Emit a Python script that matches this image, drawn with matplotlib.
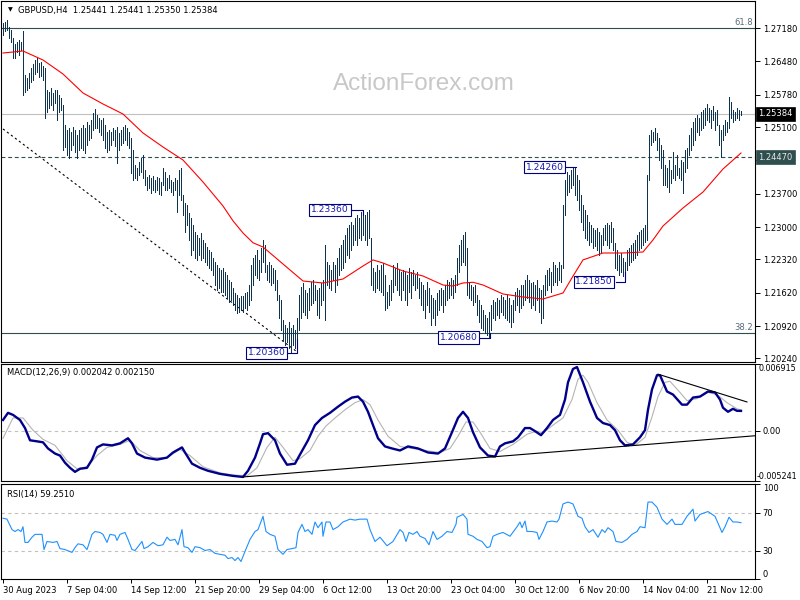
import matplotlib
matplotlib.use("Agg")
import matplotlib.pyplot as plt
import numpy as np
from matplotlib.transforms import blended_transform_factory as btf

# ---------------- data ----------------
high = [
 1.2729, 1.2731, 1.2735, 1.2720, 1.2714, 1.2697, 1.2684, 1.2689, 1.2693, 1.2689,
 1.2712, 1.2619, 1.2613, 1.2624, 1.2634, 1.2643, 1.2651, 1.2655, 1.2645, 1.2647,
 1.2638, 1.2634, 1.2588, 1.2584, 1.2592, 1.2582, 1.2588, 1.2588, 1.2577, 1.2571,
 1.2556, 1.2514, 1.2504, 1.2508, 1.2500, 1.2510, 1.2504, 1.2493, 1.2504, 1.2508,
 1.2514, 1.2508, 1.2521, 1.2514, 1.2525, 1.2540, 1.2548, 1.2535, 1.2529, 1.2525,
 1.2529, 1.2514, 1.2500, 1.2504, 1.2500, 1.2508, 1.2504, 1.2510, 1.2498, 1.2504,
 1.2510, 1.2514, 1.2508, 1.2500, 1.2487, 1.2462, 1.2430, 1.2424, 1.2437, 1.2445,
 1.2451, 1.2420, 1.2405, 1.2409, 1.2403, 1.2407, 1.2399, 1.2405, 1.2403, 1.2395,
 1.2424, 1.2416, 1.2403, 1.2409, 1.2399, 1.2395, 1.2403, 1.2399, 1.2420, 1.2424,
 1.2367, 1.2351, 1.2346, 1.2330, 1.2319, 1.2304, 1.2290, 1.2283, 1.2277, 1.2288,
 1.2273, 1.2267, 1.2258, 1.2252, 1.2248, 1.2235, 1.2227, 1.2220, 1.2214, 1.2210,
 1.2214, 1.2206, 1.2199, 1.2189, 1.2185, 1.2172, 1.2162, 1.2157, 1.2151, 1.2155,
 1.2155, 1.2162, 1.2164, 1.2178, 1.2220, 1.2235, 1.2241, 1.2252, 1.2231, 1.2256,
 1.2273, 1.2262, 1.2220, 1.2227, 1.2220, 1.2214, 1.2210, 1.2189, 1.2157, 1.2147,
 1.2105, 1.2094, 1.2088, 1.2101, 1.2088, 1.2094, 1.2084, 1.2109, 1.2157, 1.2174,
 1.2183, 1.2168, 1.2162, 1.2172, 1.2185, 1.2189, 1.2178, 1.2168, 1.2172, 1.2183,
 1.2189, 1.2262, 1.2227, 1.2220, 1.2210, 1.2227, 1.2220, 1.2235, 1.2256, 1.2262,
 1.2273, 1.2283, 1.2298, 1.2304, 1.2311, 1.2304, 1.2319, 1.2325, 1.2319, 1.2332,
 1.2336, 1.2325, 1.2332, 1.2336, 1.2277, 1.2214, 1.2206, 1.2220, 1.2210, 1.2220,
 1.2225, 1.2199, 1.2164, 1.2178, 1.2189, 1.2220, 1.2214, 1.2225, 1.2210, 1.2206,
 1.2210, 1.2206, 1.2199, 1.2214, 1.2206, 1.2210, 1.2199, 1.2206, 1.2193, 1.2185,
 1.2178, 1.2168, 1.2185, 1.2172, 1.2157, 1.2151, 1.2147, 1.2162, 1.2168, 1.2172,
 1.2168, 1.2178, 1.2189, 1.2185, 1.2193, 1.2189, 1.2199, 1.2235, 1.2262, 1.2273,
 1.2283, 1.2290, 1.2256, 1.2185, 1.2178, 1.2174, 1.2178, 1.2157, 1.2147, 1.2136,
 1.2126, 1.2115, 1.2109, 1.2122, 1.2136, 1.2147, 1.2143, 1.2151, 1.2147, 1.2157,
 1.2153, 1.2147, 1.2157, 1.2151, 1.2136, 1.2147, 1.2164, 1.2172, 1.2168, 1.2178,
 1.2178, 1.2189, 1.2199, 1.2189, 1.2183, 1.2185, 1.2178, 1.2189, 1.2172, 1.2168,
 1.2178, 1.2199, 1.2210, 1.2214, 1.2206, 1.2227, 1.2220, 1.2214, 1.2227, 1.2220,
 1.2346, 1.2399, 1.2416, 1.2409, 1.2420, 1.2424, 1.2426, 1.2409, 1.2399, 1.2367,
 1.2346, 1.2336, 1.2325, 1.2311, 1.2304, 1.2298, 1.2294, 1.2298, 1.2290, 1.2283,
 1.2298, 1.2304, 1.2309, 1.2304, 1.2311, 1.2298, 1.2267, 1.2252, 1.2241, 1.2246,
 1.2235, 1.2227, 1.2252, 1.2256, 1.2262, 1.2267, 1.2273, 1.2283, 1.2290, 1.2294,
 1.2298, 1.2304, 1.2409, 1.2493, 1.2504, 1.2500, 1.2508, 1.2498, 1.2487, 1.2472,
 1.2462, 1.2430, 1.2424, 1.2441, 1.2420, 1.2458, 1.2430, 1.2451, 1.2424, 1.2441,
 1.2437, 1.2462, 1.2466, 1.2493, 1.2508, 1.2521, 1.2529, 1.2535, 1.2529, 1.2542,
 1.2546, 1.2550, 1.2559, 1.2550, 1.2546, 1.2554, 1.2542, 1.2546, 1.2514, 1.2504,
 1.2514, 1.2525, 1.2521, 1.2573, 1.2563, 1.2546, 1.2542, 1.2550, 1.2546, 1.25441,
]
low = [
 1.2703, 1.2712, 1.2714, 1.2697, 1.2689, 1.2655, 1.2655, 1.2668, 1.2661, 1.2672,
 1.2577, 1.2584, 1.2588, 1.2592, 1.2605, 1.2609, 1.2621, 1.2626, 1.2615, 1.2617,
 1.2609, 1.2529, 1.2542, 1.2550, 1.2556, 1.2546, 1.2561, 1.2525, 1.2542, 1.2546,
 1.2462, 1.2468, 1.2451, 1.2445, 1.2462, 1.2472, 1.2458, 1.2445, 1.2462, 1.2466,
 1.2462, 1.2456, 1.2472, 1.2483, 1.2487, 1.2504, 1.2508, 1.2508, 1.2500, 1.2493,
 1.2483, 1.2466, 1.2458, 1.2462, 1.2472, 1.2483, 1.2470, 1.2435, 1.2462, 1.2472,
 1.2477, 1.2483, 1.2472, 1.2466, 1.2414, 1.2399, 1.2403, 1.2399, 1.2409, 1.2416,
 1.2403, 1.2388, 1.2378, 1.2382, 1.2372, 1.2378, 1.2374, 1.2378, 1.2369, 1.2367,
 1.2388, 1.2378, 1.2378, 1.2382, 1.2374, 1.2367, 1.2378, 1.2332, 1.2367, 1.2357,
 1.2325, 1.2290, 1.2304, 1.2273, 1.2241, 1.2252, 1.2235, 1.2231, 1.2241, 1.2231,
 1.2235, 1.2227, 1.2220, 1.2214, 1.2210, 1.2199, 1.2178, 1.2168, 1.2172, 1.2164,
 1.2164, 1.2157, 1.2151, 1.2143, 1.2147, 1.2136, 1.2126, 1.2120, 1.2122, 1.2126,
 1.2122, 1.2130, 1.2126, 1.2136, 1.2147, 1.2178, 1.2199, 1.2193, 1.2189, 1.2206,
 1.2227, 1.2206, 1.2189, 1.2185, 1.2178, 1.2183, 1.2168, 1.2147, 1.2109, 1.2084,
 1.2063, 1.2052, 1.2059, 1.2046, 1.2036, 1.2052, 1.2046, 1.2063, 1.2084, 1.2109,
 1.2122, 1.2115, 1.2109, 1.2126, 1.2136, 1.2141, 1.2147, 1.2115, 1.2109, 1.2136,
 1.2147, 1.2105, 1.2178, 1.2172, 1.2168, 1.2189, 1.2164, 1.2178, 1.2199, 1.2210,
 1.2214, 1.2227, 1.2241, 1.2235, 1.2252, 1.2262, 1.2273, 1.2262, 1.2277, 1.2273,
 1.2283, 1.2273, 1.2262, 1.2277, 1.2178, 1.2168, 1.2164, 1.2172, 1.2168, 1.2164,
 1.2157, 1.2126, 1.2130, 1.2136, 1.2147, 1.2164, 1.2178, 1.2168, 1.2157, 1.2147,
 1.2168, 1.2147, 1.2136, 1.2164, 1.2151, 1.2178, 1.2168, 1.2172, 1.2151, 1.2136,
 1.2126, 1.2109, 1.2136, 1.2122, 1.2094, 1.2109, 1.2094, 1.2115, 1.2126, 1.2136,
 1.2122, 1.2136, 1.2147, 1.2151, 1.2157, 1.2151, 1.2164, 1.2178, 1.2206, 1.2220,
 1.2227, 1.2220, 1.2157, 1.2151, 1.2147, 1.2136, 1.2143, 1.2115, 1.2101, 1.2088,
 1.2084, 1.2077, 1.2073, 1.2068, 1.2084, 1.2109, 1.2105, 1.2115, 1.2109, 1.2122,
 1.2115, 1.2109, 1.2105, 1.2101, 1.2090, 1.2101, 1.2126, 1.2136, 1.2122, 1.2130,
 1.2136, 1.2147, 1.2151, 1.2143, 1.2130, 1.2136, 1.2126, 1.2147, 1.2122, 1.2099,
 1.2109, 1.2157, 1.2168, 1.2178, 1.2164, 1.2178, 1.2185, 1.2178, 1.2189, 1.2185,
 1.2214, 1.2325, 1.2367, 1.2374, 1.2382, 1.2388, 1.2367, 1.2357, 1.2336, 1.2311,
 1.2294, 1.2277, 1.2273, 1.2262, 1.2269, 1.2256, 1.2260, 1.2252, 1.2241, 1.2248,
 1.2262, 1.2273, 1.2262, 1.2256, 1.2269, 1.2252, 1.2214, 1.2210, 1.2199, 1.2206,
 1.2197, 1.2185, 1.2210, 1.2220, 1.2227, 1.2231, 1.2235, 1.2241, 1.2252, 1.2256,
 1.2262, 1.2269, 1.2273, 1.2399, 1.2472, 1.2479, 1.2483, 1.2462, 1.2441, 1.2424,
 1.2388, 1.2388, 1.2384, 1.2374, 1.2392, 1.2403, 1.2399, 1.2409, 1.2403, 1.2399,
 1.2372, 1.2416, 1.2424, 1.2451, 1.2462, 1.2472, 1.2483, 1.2500, 1.2493, 1.2504,
 1.2508, 1.2514, 1.2525, 1.2521, 1.2508, 1.2525, 1.2504, 1.2514, 1.2472, 1.2447,
 1.2483, 1.2493, 1.2500, 1.2508, 1.2529, 1.2521, 1.2525, 1.2529, 1.2525, 1.25350,
]

ma_idx = [0, 10, 20, 30, 40, 50, 60, 70, 80, 90, 100, 110, 115, 120, 125, 130, 140,
          150, 160, 170, 180, 185, 190, 200, 210, 220, 225, 230, 235, 240, 250, 260,
          270, 280, 285, 290, 300, 310, 320, 325, 330, 340, 350, 360, 369]
ma_val = [1.26655, 1.26697, 1.26508, 1.26214, 1.25815, 1.25584, 1.25374, 1.24975,
          1.24681, 1.24408, 1.23946, 1.23442, 1.23130, 1.22875, 1.22670, 1.22581,
          1.22224, 1.21867, 1.21825, 1.21909, 1.22182, 1.22310, 1.22245, 1.22077,
          1.21972, 1.21783, 1.21762, 1.21825, 1.21840, 1.21783, 1.21594, 1.21531,
          1.21489, 1.21615, 1.21970, 1.22310, 1.22455, 1.22455, 1.22476, 1.22730,
          1.23022, 1.23400, 1.23736, 1.24219, 1.24555]

macd_idx = [0, 2.5, 5, 8.5, 11, 13.5, 17, 20, 22.5, 26, 28.5, 31, 33.5, 36, 38.5, 42,
            44.5, 47, 50, 54.5, 58.5, 62.5, 64.5, 67, 71, 77, 82, 85, 89.5, 91, 94.5,
            98.5, 102.5, 108.5, 115, 120, 122.5, 126, 128.5, 130, 132.5, 136, 138.5,
            142, 146, 148.5, 152.5, 156, 159.5, 163.5, 167.5, 171, 174.5, 177.5, 180,
            182.5, 185, 187.5, 191, 194.5, 198.5, 202.5, 207.5, 212.5, 217.5, 221,
            224.5, 227.5, 230, 232.5, 235, 238.5, 242.5, 246, 248.5, 251, 255, 257.5,
            261, 263.5, 266, 269, 272, 275, 278.5, 281, 282.5, 285, 287, 290, 293.5,
            297, 300, 303.5, 306, 308.5, 311, 315, 318.5, 321, 322.5, 324.5, 327,
            328.5, 332, 335, 339.5, 342, 345, 348.5, 352.5, 356, 358.5, 360, 362.5,
            365, 367, 369]
macd_val = [0.00110, 0.00184, 0.00163, 0.00110, 0.00026, -0.00101, -0.00112, -0.00122,
            -0.00186, -0.00239, -0.00260, -0.00334, -0.00387, -0.00429, -0.00397,
            -0.00387, -0.00302, -0.00175, -0.00144, -0.00154, -0.00133, -0.00080,
            -0.00133, -0.00239, -0.00281, -0.00302, -0.00281, -0.00228, -0.00175,
            -0.00228, -0.00344, -0.00387, -0.00418, -0.00450, -0.00471, -0.00482,
            -0.00418, -0.00281, -0.00133, -0.00038, -0.00027, -0.00101, -0.00239,
            -0.00355, -0.00344, -0.00249, -0.00101, 0.00057, 0.00131, 0.00184,
            0.00248, 0.00300, 0.00343, 0.00353, 0.00300, 0.00195, 0.00057, -0.00080,
            -0.00165, -0.00186, -0.00207, -0.00165, -0.00186, -0.00228, -0.00239,
            -0.00186, -0.00017, 0.00131, 0.00195, 0.00131, -0.00017, -0.00175,
            -0.00260, -0.00270, -0.00165, -0.00133, -0.00112, -0.00070, 0.00026,
            0.00026, -0.00006, -0.00048, 0.00026, 0.00110, 0.00163, 0.00322, 0.00501,
            0.00640, 0.00660, 0.00501, 0.00300, 0.00131, 0.00078, 0.00057, 0.00004,
            -0.00101, -0.00154, -0.00144, -0.00070, 0.00004, 0.00216, 0.00427,
            0.00575, 0.00575, 0.00406, 0.00374, 0.00269, 0.00269, 0.00343, 0.00353,
            0.00406, 0.00396, 0.00322, 0.00237, 0.00195, 0.00226, 0.00205, 0.002042]

sig_idx = [0, 5, 10, 15, 20, 26, 32, 37, 42, 47, 52, 58.5, 63.5, 68.5, 75, 82, 88.5,
           93.5, 100, 108.5, 115, 122, 127, 132, 136, 140, 145, 148.5, 153.5, 157.5,
           161.5, 166, 171, 176, 180, 183.5, 187.5, 192.5, 198.5, 204.5, 211, 218.5,
           223.5, 227.5, 231.5, 235, 238.5, 243.5, 248.5, 255, 262, 267, 270, 275, 280,
           284.5, 287.5, 290, 292.5, 297, 302, 307.5, 312, 316, 321, 324.5, 327.5, 331,
           333.5, 338.5, 342, 347, 352.5, 357, 362, 367, 369]
sig_val = [-0.00080, 0.00131, 0.00131, 0.00004, -0.00091, -0.00154, -0.00313, -0.00397,
           -0.00376, -0.00260, -0.00175, -0.00144, -0.00101, -0.00207, -0.00281,
           -0.00281, -0.00196, -0.00260, -0.00376, -0.00440, -0.00461, -0.00471,
           -0.00387, -0.00175, -0.00070, -0.00175, -0.00313, -0.00292, -0.00207,
           -0.00059, 0.00047, 0.00131, 0.00216, 0.00290, 0.00322, 0.00269, 0.00110,
           -0.00059, -0.00165, -0.00186, -0.00207, -0.00228, -0.00186, -0.00059,
           0.00089, 0.00089, -0.00017, -0.00186, -0.00217, -0.00144, -0.00038,
           -0.00006, -0.00027, 0.00057, 0.00131, 0.00322, 0.00533, 0.00575, 0.00501,
           0.00290, 0.00110, 0.00004, -0.00122, -0.00154, -0.00070, 0.00142, 0.00353,
           0.00501, 0.00512, 0.00396, 0.00311, 0.00332, 0.00396, 0.00374, 0.00290,
           0.00226, 0.002150]

rsi_idx = [0, 2, 4.5, 6, 7.5, 9, 10, 11, 12.5, 14.5, 16, 19.5, 20.5, 22, 25, 27, 28.5,
           31, 34.5, 36, 37.5, 40, 42, 44.5, 46, 48.5, 50, 52, 53.5, 56, 57, 58.5, 61,
           62.5, 64.5, 66, 67.5, 69.5, 70.5, 72.5, 75, 77.5, 80, 82, 83.5, 86, 87.5,
           89.5, 90.5, 92.5, 94.5, 96, 98.5, 101, 103.5, 106, 108.5, 111, 112.5, 114.5,
           116, 117.5, 119, 121, 123.5, 126, 127.5, 129.5, 130, 131.5, 133.5, 136,
           137.5, 140, 142, 144.5, 146.5, 147.5, 149.5, 151, 152.5, 154.5, 156, 157.5,
           159.5, 160, 161.5, 163.5, 165, 167.5, 170, 173.5, 176, 178.5, 182, 183.5,
           186, 188.5, 192, 195, 198.5, 200, 201.5, 203, 205, 207, 208.5, 211, 213,
           215, 217, 219.5, 222, 224.5, 226.5, 227, 230, 232, 232.5, 235, 237, 239.5,
           242, 243.5, 245, 247, 250, 253.5, 257, 258.5, 259.5, 261, 262, 264.5, 267,
           268, 270, 272, 274.5, 277, 278, 280, 282.5, 285, 287.5, 289.5, 291, 293,
           295, 297.5, 299.5, 301, 302.5, 305, 306.5, 309.5, 312, 314.5, 317, 318.5,
           321, 322.5, 324.5, 327, 329.5, 332, 334.5, 336, 339.5, 342, 345, 346,
           348.5, 352.5, 356, 359.5, 361, 363, 365, 367, 369]
rsi_val = [64, 63, 52, 50, 52, 50, 55, 38.5, 38.5, 44, 47, 47, 31, 39.5, 38.5, 39.5, 32,
           31, 28, 33, 37, 36, 31, 47, 50, 49, 47, 38.5, 47, 46, 40.6, 47, 49, 41.7, 31,
           30, 34, 39.5, 32, 34, 38.5, 35, 36, 44, 40.6, 41.7, 36, 52, 34, 33, 28, 34,
           33, 30, 31, 27, 26, 25, 21.5, 22.6, 19.4, 22.6, 18.4, 29, 41.7, 50, 52, 63,
           66, 50, 47, 45, 31, 26, 31, 32, 33, 49, 57.5, 50, 52, 47, 60, 54, 60, 45, 60,
           60, 52, 55, 60, 63, 62, 63, 63, 52, 39.5, 44, 35, 39.5, 52, 49, 39.5, 49, 47,
           50, 45, 42.7, 36, 50, 41.7, 45, 50, 49, 57.5, 65, 68, 63, 47, 45, 41.7, 39.5,
           33, 34, 45, 47, 49, 45, 55, 60, 54, 61, 50, 50, 49, 41.7, 50, 60, 61, 60, 63,
           79, 81, 79, 66, 64, 55, 49, 52, 44, 52, 49, 54, 50, 39.5, 38.5, 41.7, 47, 50,
           55, 54, 81, 81, 75.5, 63, 57.5, 63, 57.5, 57.5, 66, 73.5, 61, 68, 71, 66, 49,
           55, 65, 60, 60, 59.251]

x_labels = ["30 Aug 2023", "7 Sep 04:00", "14 Sep 12:00", "21 Sep 20:00",
            "29 Sep 04:00", "6 Oct 12:00", "13 Oct 20:00", "23 Oct 04:00",
            "30 Oct 12:00", "6 Nov 20:00", "14 Nov 04:00", "21 Nov 12:00"]
bars_per_label = 32
price_ticks = [1.27180, 1.26480, 1.25780, 1.25100, 1.24400, 1.23700, 1.23000,
               1.22320, 1.21620, 1.20920, 1.20240]
hidden_tick = 1.24400  # covered by the 1.24470 marker box in the reference

fib_levels = [(1.27180, "61.8"), (1.20775, "38.2")]
last_price = 1.25384
marked_level = 1.24470
watermark_price = 1.26004
swing_labels = [(163.5, 1.23360, 180, 1.2325), (270.75, 1.24260, 286.5, 1.2426),
                (295.5, 1.21850, 311, 1.2206), (227.75, 1.20680, 243.5, 1.2077),
                (131.75, 1.20360, 147, 1.2065)]
trend_main = ([0, 147], [1.2506, 1.2038])
macd_range = (-0.005241, 0.006915)
macd_trend_low = ([120, 376], [-0.00482, -0.00054])
macd_trend_high = ([327.5, 372], [0.00586, 0.00297])

# ---------------- style ----------------
BAR = "#0e3350"
FS = 6.0
plt.rcParams["font.family"] = ["DejaVu Sans"]
W, H = 800, 600
fig = plt.figure(figsize=(8, 6), dpi=100)
fig.patch.set_facecolor("white")

def rect(top, bottom, left=1, right=755):
    return [left / W, 1 - bottom / H, (right - left) / W, (bottom - top) / H]

ax = fig.add_axes(rect(1, 362))
axm = fig.add_axes(rect(364, 481))
axr = fig.add_axes(rect(484, 579))

n = len(high)
idx = np.arange(n)
XL = (-1, 376)

for a in (ax, axm, axr):
    a.set_xlim(*XL)
    for s in a.spines.values():
        s.set_linewidth(0.8)
        s.set_color("black")
    a.yaxis.tick_right()
    a.tick_params(axis="y", direction="out", length=3.5, width=0.7, pad=2,
                  labelsize=FS, colors="black")
    a.set_facecolor("white")

ax.set_xticks([])
axm.set_xticks([])

# ---------------- main panel ----------------
ax.set_ylim(1.20166, 1.27747)
ax.set_yticks(price_ticks)
ax.set_yticklabels(["" if v == hidden_tick else f"{v:.5f}" for v in price_ticks])

bt = btf(ax.transAxes, ax.transData)
ax.text(0.5613, watermark_price, "ActionForex.com", transform=bt,
        fontsize=17.5, family="Liberation Sans", color="#c8c8c8", ha="center",
        va="center", zorder=0)

for lvl, lab in fib_levels:
    ax.axhline(lvl, color="#2f4f4f", lw=0.8, zorder=1)
    ax.text(0.997, lvl + 0.0002, lab, transform=bt,
            ha="right", va="bottom", fontsize=FS, color="#5a6a7a")

ax.axhline(last_price, color="#c0c0c0", lw=0.8, zorder=1)
ax.axhline(marked_level, color="#2f4f4f", lw=0.8, ls=(0, (3.5, 2.5)), zorder=1)

ax.plot(trend_main[0], trend_main[1], color="black", lw=0.8, ls=(0, (2, 2.5)), zorder=2)

ax.vlines(idx, low, high, colors=BAR, lw=0.72, antialiased=False, zorder=3)
ax.plot(ma_idx, ma_val, color="red", lw=0.8, zorder=4)

for cx, val, ex, ey in swing_labels:
    bw = 10.75
    ax.plot([cx + bw, ex, ex], [val, val, ey], color="#000080", lw=0.8, zorder=5)
    ax.text(cx, val, f"{val:.5f}", ha="center", va="center", fontsize=6.6,
            color="#1a1ab0", zorder=6,
            bbox=dict(boxstyle="square,pad=0.18", fc="white", ec="#000080", lw=0.8))

ax.text(1.004, last_price, f"{last_price:.5f}", transform=bt, ha="left", va="center",
        fontsize=FS, color="white", clip_on=False, zorder=10,
        bbox=dict(boxstyle="square,pad=0.3", fc="black", ec="black", lw=0.5))
ax.text(1.004, marked_level, f"{marked_level:.5f}", transform=bt, ha="left",
        va="center", fontsize=FS, color="#e8e8e8", clip_on=False, zorder=10,
        bbox=dict(boxstyle="square,pad=0.3", fc="#2f4f4f", ec="#2f4f4f", lw=0.5))

fig.text(8 / W, 1 - 10 / H, "\u25bc", fontsize=4.5, va="center", ha="left")
fig.text(18 / W, 1 - 10 / H, "GBPUSD,H4  1.25441 1.25441 1.25350 1.25384",
         fontsize=FS, va="center", ha="left")

# ---------------- MACD panel ----------------
axm.set_ylim(*macd_range)
axm.axhline(0, color="#c0c0c0", lw=0.8, ls=(0, (3, 3)))
axm.plot(sig_idx, sig_val, color="#b4b4b4", lw=0.8)
axm.plot(macd_idx, macd_val, color="#00008b", lw=1.7)
axm.plot(macd_trend_low[0], macd_trend_low[1], color="black", lw=0.8)
axm.plot(macd_trend_high[0], macd_trend_high[1], color="black", lw=0.8)
axm.set_yticks([macd_range[0], 0.0, macd_range[1]])
axm.set_yticklabels(["", "0.00", ""])
bm = btf(axm.transAxes, axm.transData)
axm.text(1.004, macd_range[1], f"{macd_range[1]:.6f}", transform=bm, ha="left",
         va="top", fontsize=5.8, clip_on=False)
axm.text(1.002, macd_range[0], f"{macd_range[0]:.6f}", transform=bm, ha="left",
         va="bottom", fontsize=5.8, clip_on=False)
fig.text(7 / W, 1 - 373 / H, "MACD(12,26,9) 0.002042 0.002150", fontsize=FS,
         va="center", ha="left")

# ---------------- RSI panel ----------------
axr.set_ylim(0, 100)
for lv in (70, 30):
    axr.axhline(lv, color="#c0c0c0", lw=0.8, ls=(0, (3, 3)))
axr.plot(rsi_idx, rsi_val, color="#1e90ff", lw=0.8)
axr.set_yticks([0, 30, 70, 100])
axr.set_yticklabels(["0", "30", "70", "100"])
rt = axr.yaxis.get_major_ticks()
rt[0].label2.set_va("bottom")
rt[3].label2.set_va("top")
fig.text(7 / W, 1 - 494 / H, "RSI(14) 59.2510", fontsize=FS, va="center", ha="left")

axr.set_xticks([i * bars_per_label for i in range(len(x_labels))])
axr.set_xticklabels(x_labels, ha="left")
axr.tick_params(axis="x", direction="out", length=3, width=0.7, pad=2, labelsize=FS)

fig.savefig("out.png", dpi=100, facecolor="white")
